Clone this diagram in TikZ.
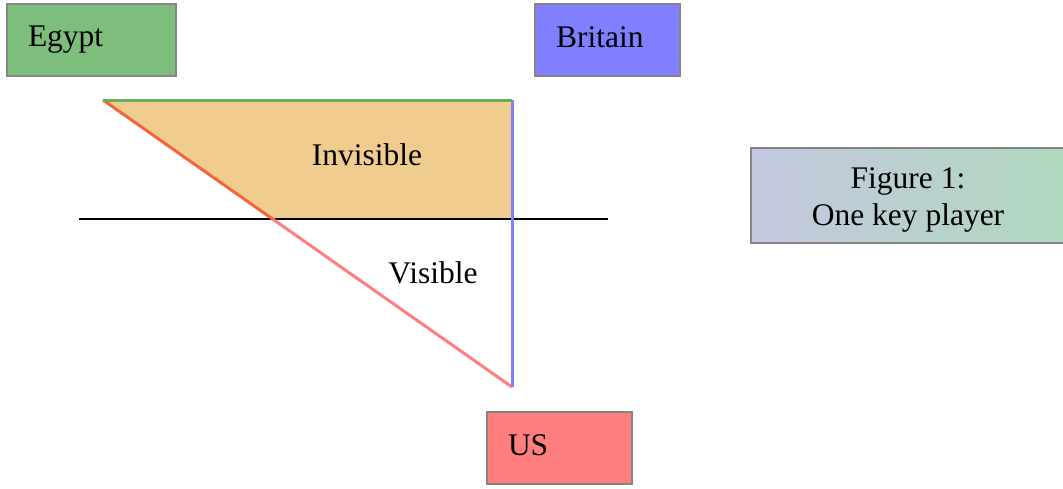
\documentclass[tikz,border=0pt]{standalone}
\usepackage{fontspec}
\setmainfont{Liberation Serif}
\usetikzlibrary{calc}
\definecolor{boxgray}{HTML}{858585}
\definecolor{egyptgreen}{HTML}{7DBE7D}
\definecolor{britainblue}{HTML}{7F7FFF}
\definecolor{usred}{HTML}{FF7F7F}
\definecolor{sand}{HTML}{F0CD8F}
\definecolor{topgreen}{HTML}{6AAE5A}
\definecolor{diagred}{HTML}{F3653F}
\definecolor{figleft}{HTML}{C4C8E0}
\definecolor{figright}{HTML}{B0D8BE}
\begin{document}
\begin{tikzpicture}[x=1pt,y=-1pt,
  txt/.style={font=\fontsize{31.5}{37}\selectfont},
  playerbox/.style={txt,draw=boxgray,line width=2pt,minimum height=72pt,
    inner xsep=21pt,align=left,inner ysep=0pt},
  figbox/.style={draw=boxgray,line width=2pt,minimum height=95pt,
    minimum width=314pt,left color=figleft,right color=figright},
  edge/.style={line width=3pt}]
\useasboundingbox (0,0) rectangle (1063,488);

% the three players
\node[playerbox,fill=egyptgreen,text width=127pt] (egypt) at (91.5,40) {Egypt\vphantom{Bg}};
\node[playerbox,fill=britainblue,text width=103pt] (britain) at (607.5,40) {Britain\vphantom{Bg}};
\node[playerbox,fill=usred,text width=103pt] (us) at (559.5,448) {US\vphantom{Bg}};

% caption box
\node[figbox] (fig) at (908,195.5) {};
\node[txt,align=center] (figtext) at ($(fig.center)+(0,4)$) {Figure 1:\\One key player};

% triangle corners and the waterline
\coordinate (a) at (103,100);
\coordinate (b) at (512,100);
\coordinate (c) at (512,387);
\coordinate (m) at (272.6,219);
\coordinate (wl) at (79,219);
\coordinate (wr) at (608,219);
\coordinate (bm) at (512,219);

% hidden part above the waterline
\fill[sand] (a) -- (b) -- (bm) -- (m) -- cycle;

\draw[black,line width=2pt] (wl) -- (wr);
\draw[edge,usred] (m) -- (c);
\draw[edge,diagred] (a) -- (m);
\draw[edge,britainblue] (b) -- (c);
\draw[edge,topgreen] (a) -- (b);

\node[txt] (invisible) at (367,155) {Invisible};
\node[txt] (visible) at (433,273) {Visible};
\end{tikzpicture}
\end{document}
